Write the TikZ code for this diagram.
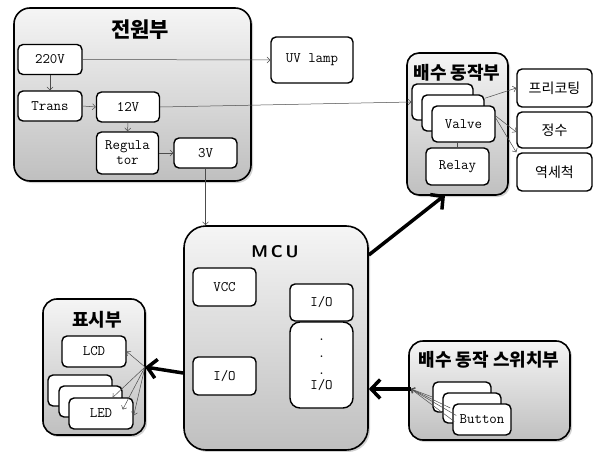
\documentclass[tikz,border=0pt]{standalone}
\usepackage{fontspec}
\newfontfamily\kr{Noto Sans CJK KR}
\usetikzlibrary{arrows.meta,shadows}
\begin{document}
\begin{tikzpicture}[x=1pt,y=-1pt,
  grp/.style={draw=black,line width=1.6pt,rounded corners=16pt,top color=gray!8,bottom color=gray!50,
     drop shadow={shadow xshift=2pt,shadow yshift=-2pt,fill=gray!70}},
  bx/.style={draw=black,line width=1.4pt,rounded corners=5pt,fill=white,font=\ttfamily\fontsize{14.5}{15}\selectfont,align=center,inner sep=0pt},
  krbx/.style={bx,font=\kr\fontsize{14}{16}\selectfont},
  ttl/.style={font=\kr\bfseries\fontsize{18}{20}\selectfont},
  thin/.style={draw=gray!60!black,line width=0.5pt,-{Straight Barb[length=3pt,width=6pt]}},
  thick/.style={line width=3.5pt,-{Straight Barb[length=9pt,width=19pt]}}]
\useasboundingbox (0,0) rectangle (597,452);
% power group
\node[grp,minimum width=237pt,minimum height=173pt] (pg) at (132.5,94.5) {};
\node[ttl,font=\kr\bfseries\fontsize{21}{23}\selectfont] (pgt) at (140,30) {전원부};
\node[bx,minimum width=64pt,minimum height=30pt] (v220) at (50,59.5) {220V};
\node[bx,minimum width=64pt,minimum height=30pt] (trans) at (50,106) {Trans};
\node[bx,minimum width=63pt,minimum height=30pt] (v12) at (128,107) {12V};
\node[bx,minimum width=62pt,minimum height=42pt] (reg) at (127.5,153) {Regula\\tor};
\node[bx,minimum width=63pt,minimum height=30pt] (v3) at (205.5,153) {3V};
\node[bx,minimum width=82pt,minimum height=46pt] (uv) at (312,60) {UV lamp};
% drain action group
\node[grp,minimum width=101pt,minimum height=142pt,rounded corners=12pt] (dg) at (457.5,124) {};
\node[ttl] (dgt) at (457,73) {배수 동작부};
\node[bx,minimum width=61pt,minimum height=36pt] (va1) at (442.5,102) {};
\node[bx,minimum width=62pt,minimum height=36pt] (va2) at (453,113) {};
\node[bx,minimum width=63pt,minimum height=36pt] (va3) at (463.5,124) {Valve};
\node[bx,minimum width=63pt,minimum height=37pt] (relay) at (457.5,166.5) {Relay};
\node[krbx,minimum width=75pt,minimum height=38pt] (pre) at (554.5,88) {프리코팅};
\node[krbx,minimum width=75pt,minimum height=36pt] (pur) at (554.5,130) {정수};
\node[krbx,minimum width=75pt,minimum height=38pt] (back) at (554.5,172) {역세척};
% MCU
\node[grp,minimum width=184pt,minimum height=224pt,rounded corners=22pt] (mcu) at (276,338) {};
\node[font=\sffamily\bfseries\fontsize{17}{19}\selectfont] (mcut) at (275,252) {M\,C\,U};
\node[bx,minimum width=63pt,minimum height=38pt] (vcc) at (224.5,287) {VCC};
\node[bx,minimum width=63pt,minimum height=38pt] (iol) at (224.5,376) {I/O};
\node[bx,minimum width=63pt,minimum height=37pt] (ior) at (321.5,302.5) {I/O};
\node[bx,minimum width=63pt,minimum height=86pt,rounded corners=10pt] (iob) at (321.5,365) {.\\[2pt].\\[2pt].\\I/O};
% display group
\node[grp,minimum width=102pt,minimum height=136pt,rounded corners=14pt] (disp) at (94,367) {};
\node[ttl] (dispt) at (97,320) {표시부};
\node[bx,minimum width=64pt,minimum height=31pt] (lcd) at (94,351.5) {LCD};
\node[bx,minimum width=64pt,minimum height=31pt] (led1) at (80,390.5) {};
\node[bx,minimum width=63pt,minimum height=31pt] (led2) at (90.5,401.5) {};
\node[bx,minimum width=64pt,minimum height=31pt] (led3) at (101,413.5) {LED};
% switch group
\node[grp,minimum width=161pt,minimum height=99pt,rounded corners=14pt] (sw) at (489.5,390.5) {};
\node[ttl] (swt) at (489,360) {배수 동작 스위치부};
\node[bx,minimum width=58pt,minimum height=30pt] (bt1) at (462,397) {};
\node[bx,minimum width=58pt,minimum height=30pt] (bt2) at (472,408) {};
\node[bx,minimum width=58pt,minimum height=31pt] (bt3) at (482,419.5) {Button};
% coordinates
\coordinate (dhub) at (145,367);
\coordinate (shub) at (411,389);
% thin connectors
\draw[thin] (v220.south) -- (trans.north);
\draw[thin] (trans.east) -- (v12.west);
\draw[thin] (v12.south) -- (reg.north);
\draw[thin] (reg.east) -- (v3.west);
\draw[thin] (v220.east) -- (uv.west);
\draw[thin] (v12.east) -- (va1.west);
\draw[thin] (v3.south) -- (mcu.north -| v3.south);
\draw[draw=gray!60!black,line width=0.5pt] (relay.north) -- (relay.north |- va3.south);
\draw[thin] (va2.north east) ++(0,4) -- (pre.west);
\draw[thin] (va3.east) ++(0,-8) -- ([yshift=-2pt]pur.west);
\draw[thin] (va3.east) ++(0,-6) -- ([yshift=0pt]back.north west) ;
\draw[thin] (dhub) -- (lcd.east);
\draw[thin] (dhub) -- ([yshift=-7pt]led1.east);
\draw[thin] (dhub) -- ([yshift=-8pt]led2.east);
\draw[thin] (dhub) -- ([yshift=-2pt]led3.east);
\draw[thin] (bt1.west) -- (shub);
\draw[thin] ([xshift=8pt]bt2.west) -- (shub);
\draw[thin] ([xshift=2pt,yshift=-2pt]bt3.west) -- (shub);
\draw[thin] ([xshift=4pt,yshift=4pt]bt3.west) -- (shub);
% thick connectors
\draw[thick] (mcu.east |- 0,255) -- (445,195);
\draw[thick] (mcu.west |- 0,373) -- (dhub);
\draw[thick] (shub) -- (mcu.east |- shub);
\end{tikzpicture}
\end{document}
